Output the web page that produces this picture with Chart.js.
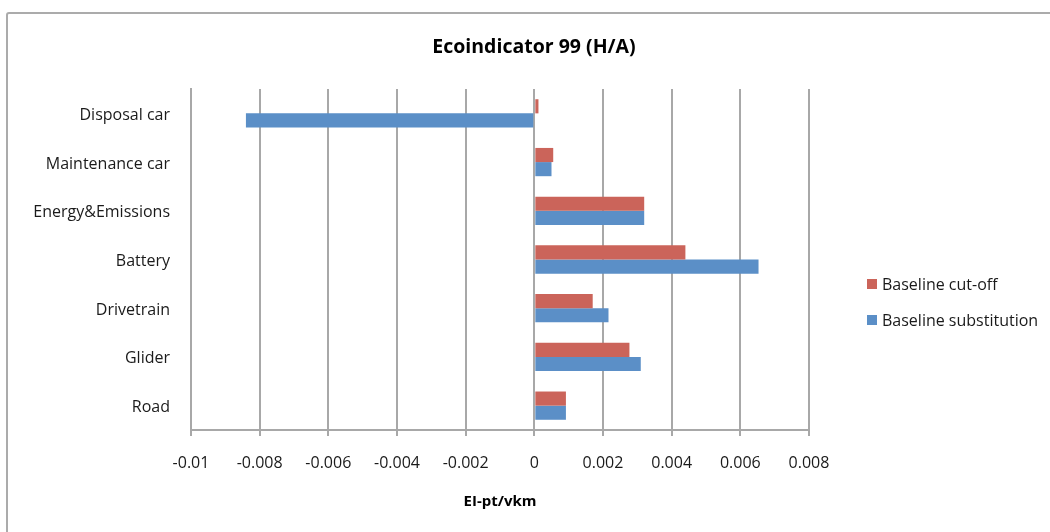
<!DOCTYPE html>
<html>
<head>
<meta charset="utf-8">
<title>Ecoindicator 99 (H/A)</title>
<script src="https://cdn.jsdelivr.net/npm/chart.js@4.4.1/dist/chart.umd.min.js"></script>
<style>
  html, body { margin: 0; padding: 0; background: #fff; overflow: hidden; }
  #wrap { position: relative; width: 1050px; height: 532px; }
  #frame {
    position: absolute; left: 6px; top: 12px; width: 1100px; height: 600px;
    border: 2px solid #ababab; border-radius: 3px; pointer-events: none;
  }
  canvas { position: absolute; left: 0; top: 0; }
</style>
</head>
<body>
<div id="wrap">
  <canvas id="chart" width="1050" height="532"></canvas>
  <div id="frame"></div>
</div>
<script>
// data
const chartTitle = 'Ecoindicator 99 (H/A)';
const axisTitle = 'EI-pt/vkm';
const categories = ['Disposal car', 'Maintenance car', 'Energy&Emissions', 'Battery', 'Drivetrain', 'Glider', 'Road'];
const cutOff = [0.00012, 0.00055, 0.0032, 0.0044, 0.0017, 0.00277, 0.00092];
const substitution = [-0.0084, 0.0005, 0.0032, 0.00653, 0.00216, 0.0031, 0.00092];
const xTicks = [-0.01, -0.008, -0.006, -0.004, -0.002, 0, 0.002, 0.004, 0.006, 0.008];
const xTickLabels = ['-0.01', '-0.008', '-0.006', '-0.004', '-0.002', '0', '0.002', '0.004', '0.006', '0.008'];

const RED = '#cb645a';
const BLUE = '#5b8fc7';
const GRID = '#a8a8a8';
const FONT = '"Open Sans"';

Chart.defaults.font.family = FONT;
Chart.defaults.font.size = 16;
Chart.defaults.color = '#1a1a1a';

// title and legend are drawn by hand so they can sit where the original has them
const decor = {
  id: 'decor',
  afterDraw(chart) {
    const ctx = chart.ctx;
    ctx.save();
    ctx.fillStyle = '#000';
    ctx.font = 'bold 19.5px ' + FONT;
    ctx.textAlign = 'center';
    ctx.textBaseline = 'middle';
    ctx.fillText(chartTitle, 534, 47);

    ctx.font = '16px ' + FONT;
    ctx.textAlign = 'left';
    chart.data.datasets.forEach((ds, i) => {
      const y = 284 + i * 36;
      ctx.fillStyle = ds.backgroundColor;
      ctx.fillRect(867, y - 5, 10, 10);
      ctx.fillStyle = '#1a1a1a';
      ctx.fillText(ds.label, 882, y + 1);
    });
    ctx.restore();
  }
};

new Chart(document.getElementById('chart'), {
  type: 'bar',
  data: {
    labels: categories,
    datasets: [
      { label: 'Baseline cut-off', data: cutOff, backgroundColor: RED },
      { label: 'Baseline substitution', data: substitution, backgroundColor: BLUE }
    ]
  },
  options: {
    indexAxis: 'y',
    responsive: false,
    animation: false,
    layout: { padding: { left: 0, top: 89, right: 241, bottom: 0 } },
    datasets: { bar: { categoryPercentage: 0.58, barPercentage: 1 } },
    plugins: {
      legend: { display: false },
      title: { display: false },
      tooltip: { enabled: false }
    },
    scales: {
      x: {
        min: -0.01,
        max: 0.008,
        afterBuildTicks: s => { s.ticks = xTicks.map(v => ({ value: v })); },
        afterFit: s => { s.height = 102; },
        ticks: {
          padding: 18,
          maxRotation: 0,
          autoSkip: false,
          callback: (v, i) => xTickLabels[i]
        },
        grid: { color: GRID, lineWidth: 2, tickLength: 6, drawTicks: true },
        border: { color: GRID, width: 2 },
        title: {
          display: true,
          text: axisTitle,
          font: { weight: 'bold', size: 15 },
          color: '#000',
          padding: { top: 4, bottom: 21 }
        }
      },
      y: {
        afterFit: s => { s.width = 191; },
        ticks: { padding: 21, labelOffset: 2 },
        grid: { display: false, drawTicks: false },
        border: { color: GRID, width: 2 }
      }
    }
  },
  plugins: [decor]
});
</script>
</body>
</html>
